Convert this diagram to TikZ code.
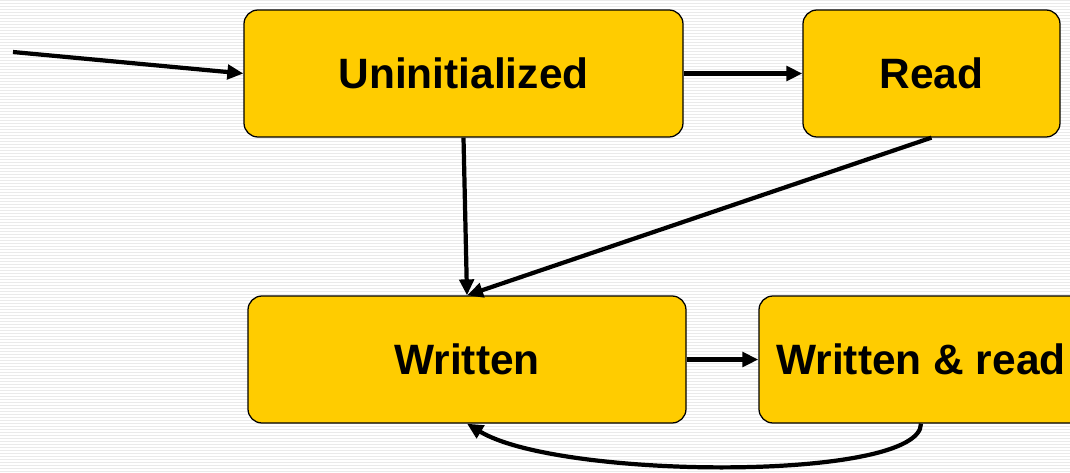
\documentclass[tikz,border=0pt]{standalone}
\usepackage{fontspec}
\setmainfont{Liberation Sans}
\usetikzlibrary{arrows.meta}
\definecolor{stripe}{HTML}{EAEAEA}
\definecolor{statefill}{HTML}{FFCC00}

\begin{document}
\begin{tikzpicture}[line width=3pt,
	state/.style={draw, line width=0.9pt, fill=statefill, rounded corners=0.35cm,
		minimum height=3.175cm, font=\fontsize{30.2}{34}\selectfont\bfseries},
	trans/.style={-{Triangle[length=0.4cm,width=0.36cm]}}]
\useasboundingbox (0,0) rectangle (26.75,-11.8);
\clip (0,0) rectangle (26.75,-11.8);

% striped backdrop
\foreach \k in {0,...,158}{
	\fill[stripe] (0,-\k*0.075) rectangle (26.75,-\k*0.075-0.035);
}

\node[state, minimum width=10.975cm] (uninit) at (11.5875,-1.8375) {Uninitialized};
\node[state, minimum width=6.425cm] (read) at (23.2875,-1.8375) {Read};
\node[state, minimum width=10.95cm] (written) at (11.675,-8.9875) {Written};
\node[state, minimum width=8.1cm] (wread) at (23.025,-8.9875) {Written \& read};
\coordinate (entry) at (0.325,-1.3);

\draw[trans] (entry)--(uninit.west);
\draw[trans] (uninit.east)--(read.west);
\draw[trans] (uninit.south)--(written.north);
\draw[trans] (read.south)--(written.north);
\draw[trans] (written.east)--(wread.west);
\draw[trans] (wread.south) .. controls +(0,-1.45) and +(2.3,-1.4) .. (written.south);
\end{tikzpicture}
\end{document}
